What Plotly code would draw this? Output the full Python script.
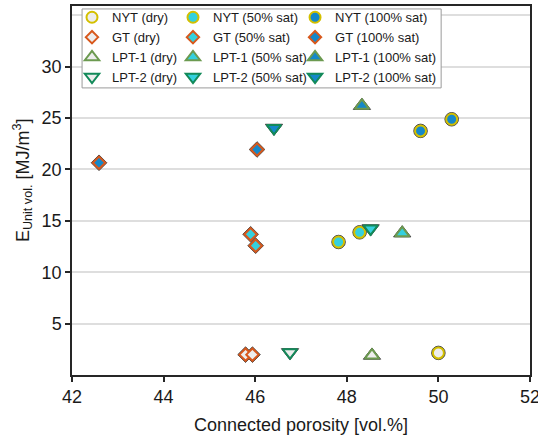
import plotly.graph_objects as go

# ---- data ----
nyt_dry_x = [50.00]
nyt_dry_y = [2.15]
nyt_50_x = [47.82, 48.28]
nyt_50_y = [12.94, 13.88]
nyt_100_x = [49.61, 50.29]
nyt_100_y = [23.75, 24.88]

gt_dry_x = [45.79, 45.94]
gt_dry_y = [1.98, 1.98]
gt_50_x = [45.90, 46.01]
gt_50_y = [13.69, 12.58]
gt_100_x = [42.59, 46.04]
gt_100_y = [20.65, 21.94]

lpt1_dry_x = [48.55]
lpt1_dry_y = [1.90]
lpt1_50_x = [49.21]
lpt1_50_y = [13.80]
lpt1_100_x = [48.33]
lpt1_100_y = [26.20]

lpt2_dry_x = [46.76]
lpt2_dry_y = [2.20]
lpt2_50_x = [48.52]
lpt2_50_y = [14.25]
lpt2_100_x = [46.41]
lpt2_100_y = [24.03]

x_ticks = [42, 44, 46, 48, 50, 52]
y_ticks = [5, 10, 15, 20, 25, 30]

x_title = "Connected porosity [vol.%]"
y_title = "E<sub>Unit vol.</sub> [MJ/m<sup>3</sup>]"

# ---- styles ----
FONT = "Liberation Sans, Arial, sans-serif"
DARK = "#4a4a4a"
FILL_DRY = "#ededed"
FILL_50 = "#34d0de"
FILL_100 = "#1488c9"
EDGE = {"NYT": "#d4c000", "GT": "#d8581c", "LPT-1": "#6c9a50", "LPT-2": "#138a5a"}
SYMBOL = {"NYT": "circle", "GT": "diamond", "LPT-1": "triangle-up", "LPT-2": "triangle-down"}
SIZE = {"NYT": 11, "GT": 9.5, "LPT-1": 12.5, "LPT-2": 12.5}

series = [
    ("NYT", "dry", nyt_dry_x, nyt_dry_y, FILL_DRY, "legend"),
    ("NYT", "50% sat", nyt_50_x, nyt_50_y, FILL_50, "legend2"),
    ("NYT", "100% sat", nyt_100_x, nyt_100_y, FILL_100, "legend3"),
    ("GT", "dry", gt_dry_x, gt_dry_y, FILL_DRY, "legend"),
    ("GT", "50% sat", gt_50_x, gt_50_y, FILL_50, "legend2"),
    ("GT", "100% sat", gt_100_x, gt_100_y, FILL_100, "legend3"),
    ("LPT-1", "dry", lpt1_dry_x, lpt1_dry_y, FILL_DRY, "legend"),
    ("LPT-1", "50% sat", lpt1_50_x, lpt1_50_y, FILL_50, "legend2"),
    ("LPT-1", "100% sat", lpt1_100_x, lpt1_100_y, FILL_100, "legend3"),
    ("LPT-2", "dry", lpt2_dry_x, lpt2_dry_y, FILL_DRY, "legend"),
    ("LPT-2", "50% sat", lpt2_50_x, lpt2_50_y, FILL_50, "legend2"),
    ("LPT-2", "100% sat", lpt2_100_x, lpt2_100_y, FILL_100, "legend3"),
]

fig = go.Figure()
for stone, state, xs, ys, fill, leg in series:
    s = SIZE[stone]
    # thin dark outer outline
    fig.add_trace(go.Scatter(
        x=xs, y=ys, mode="markers", showlegend=False, hoverinfo="skip",
        marker=dict(symbol=SYMBOL[stone], size=s + 2.5, color=DARK,
                    line=dict(color=DARK, width=1)),
    ))
    fig.add_trace(go.Scatter(
        x=xs, y=ys, mode="markers", name=f"{stone} ({state})", legend=leg,
        marker=dict(symbol=SYMBOL[stone], size=s, color=fill,
                    line=dict(color=EDGE[stone], width=2)),
    ))

axis_common = dict(
    showline=True, linecolor="#262626", linewidth=1.5, mirror=True,
    ticks="outside", ticklen=5, tickwidth=1.5, tickcolor="#262626",
    tickfont=dict(family=FONT, size=18, color="#1a1a1a"),
    zeroline=False, automargin=False,
)

fig.update_xaxes(
    range=[42, 52], tickvals=x_ticks, showgrid=False, ticklabeloverflow="allow",
    title=dict(text=x_title,
               font=dict(family=FONT, size=18, color="#1a1a1a"), standoff=12),
    **axis_common,
)
fig.update_yaxes(
    range=[0, 35.9], tickvals=y_ticks,
    showgrid=True, gridcolor="#dedede", gridwidth=1.5,
    minor=dict(tickvals=[35], showgrid=True, gridcolor="#dedede", gridwidth=1.5, ticks=""),
    **axis_common,
)

leg_common = dict(
    orientation="v", yanchor="top", y=1.01, xanchor="left",
    bgcolor="rgba(0,0,0,0)", borderwidth=0, tracegroupgap=0,
    font=dict(family=FONT, size=13, color="#1a1a1a"),
)
fig.update_layout(
    width=538, height=435,
    margin=dict(l=72, r=8, t=6, b=60, autoexpand=False),
    paper_bgcolor="white", plot_bgcolor="white",
    legend=dict(x=0.0, **leg_common),
    legend2=dict(x=0.2205, **leg_common),
    legend3=dict(x=0.487, **leg_common),
    shapes=[dict(type="rect", xref="paper", yref="paper",
                 x0=0.022, x1=0.806, y0=0.778, y1=0.992,
                 fillcolor="white", line=dict(color="#9a9a9a", width=1),
                 layer="above")],
    annotations=[dict(text=y_title, textangle=-90, xref="paper", yref="paper",
                      x=-0.108, y=0.527, xanchor="center", yanchor="middle",
                      showarrow=False,
                      font=dict(family=FONT, size=18, color="#1a1a1a"))],
)

fig.write_html("out.html")
